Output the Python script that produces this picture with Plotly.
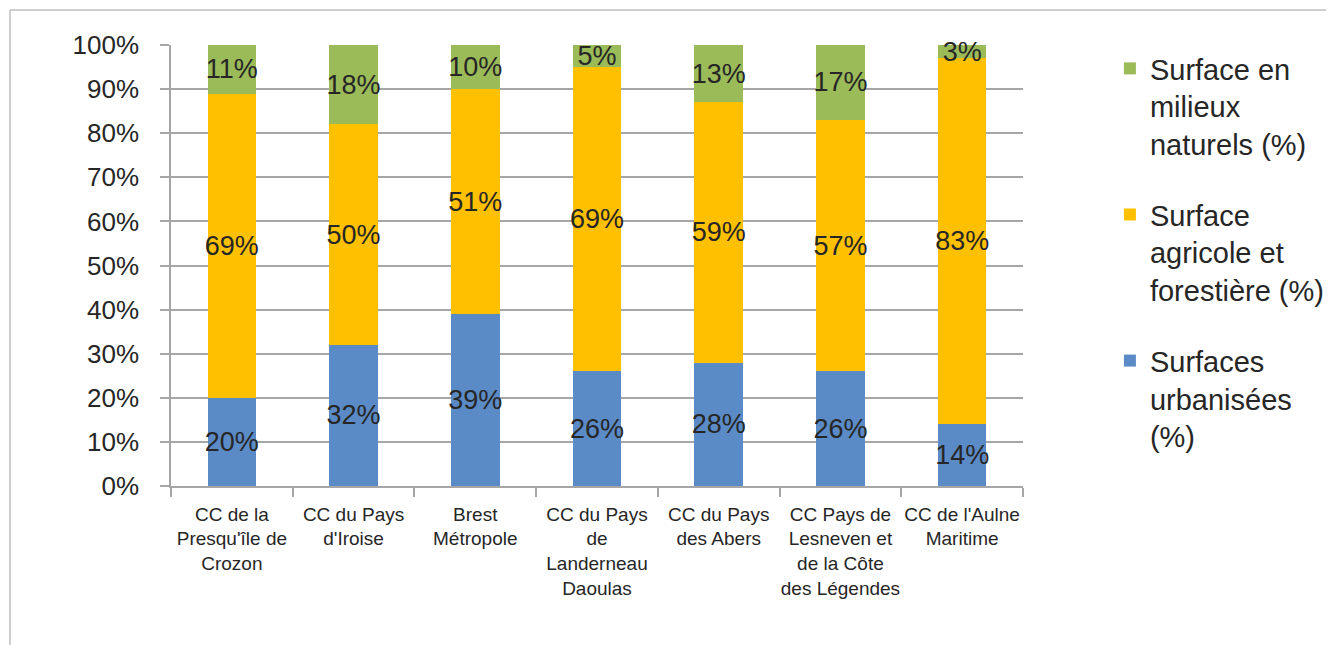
import plotly.graph_objects as go

categories = [
    "CC de la<br>Presqu'île de<br>Crozon",
    "CC du Pays<br>d'Iroise",
    "Brest<br>Métropole",
    "CC du Pays<br>de<br>Landerneau<br>Daoulas",
    "CC du Pays<br>des Abers",
    "CC Pays de<br>Lesneven et<br>de la Côte<br>des Légendes",
    "CC de l'Aulne<br>Maritime",
]

urbanisees = [20, 32, 39, 26, 28, 26, 14]
agricole = [69, 50, 51, 69, 59, 57, 83]
naturels = [11, 18, 10, 5, 13, 17, 3]

series = [
    ("Surfaces<br>urbanisées<br>(%)", urbanisees, "#5B8BC6"),
    ("Surface<br>agricole et<br>forestière (%)", agricole, "#FFC000"),
    ("Surface en<br>milieux<br>naturels (%)", naturels, "#9BBB59"),
]

FONT = "Liberation Sans"
TEXT = "#262626"
GRID = "#a6a6a6"

fig = go.Figure()
for i, (name, vals, color) in enumerate(series):
    fig.add_trace(go.Bar(
        x=categories,
        y=vals,
        name=name,
        legendgroup=f"g{i}",
        legendrank=len(series) - i,  # top series first in the legend
        marker=dict(color=color, line=dict(width=0)),
        text=[f"{v}%" for v in vals],
        textposition="inside",
        insidetextanchor="middle",
        textangle=0,
        textfont=dict(family=FONT, size=27, color=TEXT),
        cliponaxis=False,
        width=0.4,
    ))

# page body has an 8px margin, so the figure is made 8px smaller
fig.update_layout(
    barmode="stack",
    barnorm="percent",
    width=1326,
    height=637,
    margin=dict(l=163, r=311, t=37, b=159),
    paper_bgcolor="white",
    plot_bgcolor="white",
    font=dict(family=FONT, color=TEXT),
    uniformtext=dict(minsize=27, mode="show"),
    legend=dict(
        xref="container", yref="container",
        x=0.831, y=0.945, xanchor="left", yanchor="top",
        traceorder="grouped",
        tracegroupgap=30,
        valign="top",
        maxheight=600,
        font=dict(family=FONT, size=29, color=TEXT),
    ),
    shapes=[
        dict(type="line", xref="paper", yref="paper",
             x0=-0.189, x1=1.6, y0=1.0794, y1=1.0794,
             line=dict(color="#bfbfbf", width=1.5)),
        dict(type="line", xref="paper", yref="paper",
             x0=-0.189, x1=-0.189, y0=1.0794, y1=-0.6,
             line=dict(color="#bfbfbf", width=1.5)),
    ],
)

fig.update_yaxes(
    range=[0, 100],
    dtick=10,
    ticksuffix="%",
    showgrid=True,
    gridcolor=GRID,
    gridwidth=1.5,
    showline=True,
    linecolor=GRID,
    linewidth=1.5,
    ticks="outside",
    ticklen=9,
    tickcolor=GRID,
    tickwidth=1.5,
    ticklabelstandoff=16,
    tickfont=dict(family=FONT, size=26, color=TEXT),
    zeroline=False,
)
fig.update_xaxes(
    showline=True,
    linecolor=GRID,
    linewidth=1.5,
    ticks="outside",
    tickson="boundaries",
    ticklen=9,
    tickcolor=GRID,
    tickwidth=1.5,
    ticklabelstandoff=10,
    tickfont=dict(family=FONT, size=19, color=TEXT),
    tickangle=0,
)

fig.write_html("out.html")
